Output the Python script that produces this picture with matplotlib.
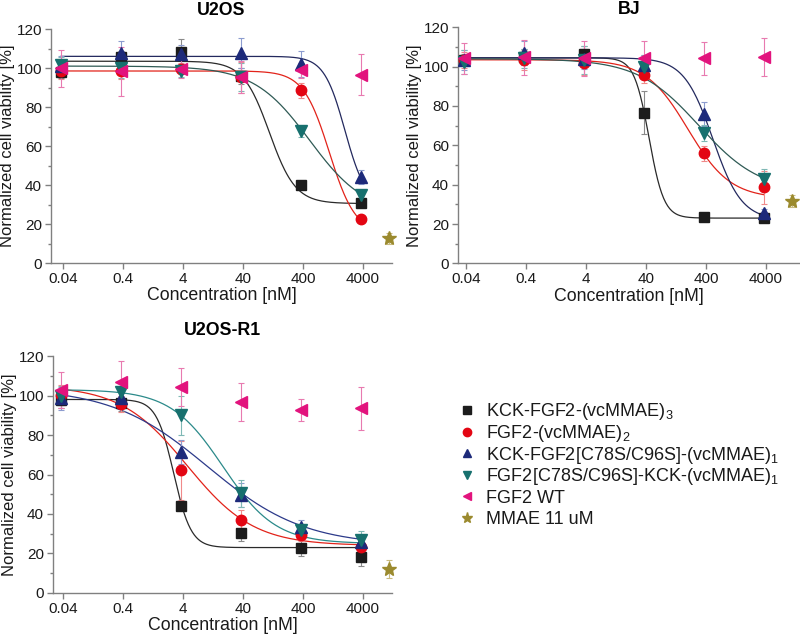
import numpy as np
import matplotlib
matplotlib.use("Agg")
import matplotlib.pyplot as plt
from matplotlib.lines import Line2D
from matplotlib.ticker import FixedLocator, MultipleLocator

plt.rcParams["font.family"] = ["Liberation Sans", "DejaVu Sans"]
plt.rcParams["mathtext.fontset"] = "custom"
plt.rcParams["mathtext.rm"] = "Liberation Sans"
plt.rcParams["mathtext.it"] = "Liberation Sans"
plt.rcParams["mathtext.default"] = "regular"

# concentrations [nM]
conc = [0.037, 0.37, 3.7, 37, 370, 3700]
mmae_conc = 11000
tick_vals = [0.04, 0.4, 4, 40, 400, 4000]
tick_labels = ["0.04", "0.4", "4", "40", "400", "4000"]

labels = [r"KCK-FGF2-(vcMMAE)$_3$", r"FGF2-(vcMMAE)$_2$",
          r"KCK-FGF2[C78S/C96S]-(vcMMAE)$_1$", r"FGF2[C78S/C96S]-KCK-(vcMMAE)$_1$",
          "FGF2 WT", "MMAE 11 uM"]

# U2OS
u2os_kck3 = [97.8, 105.6, 108, 96, 39.8, 30.6]
u2os_kck3_err = [3, 3, 7, 4, 2, 2]
u2os_fgf2 = [98.6, 98.6, 99.7, 95.2, 88.5, 22.7]
u2os_fgf2_err = [4, 4, 3, 8, 4, 1.5]
u2os_kck_c78 = [101, 107.7, 107, 107.7, 102, 44]
u2os_kck_c78_err = [5, 6, 5, 7.5, 6.5, 3.5]
u2os_c78_kck = [101.5, 100, 98.3, 95.4, 67.5, 34.7]
u2os_c78_kck_err = [4, 5, 3, 7, 3, 3]
u2os_wt = [100, 98.3, 99.7, 95.4, 98.8, 96.6]
u2os_wt_err = [9.5, 12.6, 5, 8, 4, 10.5]
u2os_mmae, u2os_mmae_err = 12.6, 3
# fitted curves: top, bottom, ec50, hill
u2os_fit = [(103.5, 30.5, 110, 2.0), (98.5, 15, 1100, 2.0),
            (106, 30, 2000, 2.5), (101, 25, 515, 0.935)]

# BJ
bj_kck3 = [103.4, 105, 106.3, 76.6, 23.7, 22.9]
bj_kck3_err = [3, 4, 4, 11, 1.5, 1.5]
bj_fgf2 = [103.4, 103.4, 101.7, 95.8, 55.9, 38.6]
bj_fgf2_err = [4, 5, 6, 4, 4, 8.5]
bj_kck_c78 = [103.4, 106.8, 104, 101, 75.8, 25.4]
bj_kck_c78_err = [5, 6, 5, 5, 6, 2]
bj_c78_kck = [102.5, 104.2, 103.4, 100, 66.1, 42.9]
bj_c78_kck_err = [6, 5, 7, 6, 4, 5]
bj_wt = [104.2, 104.7, 104.2, 104.2, 104.2, 105]
bj_wt_err = [8, 9, 9, 9, 8.5, 9.5]
bj_mmae, bj_mmae_err = 31.7, 3
bj_fit = [(104.5, 23, 45, 3.5), (103.5, 33, 200, 1.23),
          (104.5, 22, 520, 1.8), (104, 36, 305, 0.848)]

# U2OS-R1
r1_kck3 = [97.7, 96, 43.9, 30.6, 22.8, 18.3]
r1_kck3_err = [4, 4, 2, 4.5, 4, 4.5]
r1_fgf2 = [100.2, 95.5, 62.2, 36.8, 29.2, 23.3]
r1_fgf2_err = [5, 4, 15, 5, 3, 2.5]
r1_kck_c78 = [98.5, 98.5, 71.5, 49.5, 33.5, 25.9]
r1_kck_c78_err = [6, 5, 6, 6, 3.5, 2]
r1_c78_kck = [100, 101.9, 90, 50.4, 31.8, 26.7]
r1_c78_kck_err = [5, 5, 10, 7, 3, 4.5]
r1_wt = [102.8, 106.6, 104.4, 96.8, 92.6, 93.5]
r1_wt_err = [9, 11, 9.5, 9.5, 5.5, 11]
r1_mmae, r1_mmae_err = 12.3, 4.5
r1_fit = [(98, 23, 2.8, 3.0), (105, 24, 4.7, 0.78),
          (104, 24, 10.3, 0.54), (103, 25, 18.6, 0.99)]

markers = ["s", "o", "^", "v", "<"]
mcolors = ["#1c1c1c", "#e30613", "#1d2a7a", "#17706e", "#e2137d"]
ecolors = ["#8a8a8a", "#f08a8a", "#8c9ccf", "#7fb8b5", "#e87ab0"]
msizes = [7, 7.5, 8, 8, 8]
star_color = "#9b8a2e"
axis_gray = "#808080"
text_col = "#1a1a1a"


def hill(x, top, bottom, ec50, h):
    return bottom + (top - bottom) / (1 + (x / ec50) ** h)


def draw_panel(ax, title, series, errs, fits, mmae, mmae_err, fit_colors,
               left_px, right_px, title_pad):
    xs = np.logspace(np.log10(conc[0]), np.log10(conc[-1]), 300)
    for p, c in zip(fits, fit_colors):
        ax.plot(xs, hill(xs, *p), color=c, lw=0.9, zorder=2)
    for i, (y, e) in enumerate(zip(series, errs)):
        ax.errorbar(conc, y, yerr=e, fmt="none", ecolor=ecolors[i], elinewidth=0.8,
                    capsize=2.2, capthick=0.8, zorder=3)
        ax.plot(conc, y, ls="none", marker=markers[i], ms=msizes[i], color=mcolors[i],
                mec=mcolors[i], zorder=4 + i)
    ax.errorbar([mmae_conc], [mmae], yerr=[mmae_err], fmt="none", ecolor="#c9bb80",
                elinewidth=0.8, capsize=2.2, capthick=0.8, zorder=3, clip_on=False)
    ax.plot([mmae_conc], [mmae], ls="none", marker="*", ms=10, color=star_color, zorder=10,
            clip_on=False)

    ax.set_xscale("log")
    l0 = np.log10(0.04)
    ax.set_xlim(10 ** (l0 - left_px / 60), 10 ** (l0 + right_px / 60))
    ax.set_ylim(0, 120)
    ax.xaxis.set_major_locator(FixedLocator(tick_vals))
    ax.set_xticklabels(tick_labels)
    ax.xaxis.set_minor_locator(FixedLocator([]))
    ax.yaxis.set_major_locator(MultipleLocator(20))
    ax.yaxis.set_minor_locator(MultipleLocator(10))
    for s in ["top", "right"]:
        ax.spines[s].set_visible(False)
    for s in ["left", "bottom"]:
        ax.spines[s].set_color(axis_gray)
        ax.spines[s].set_linewidth(1.0)
    ax.tick_params(which="major", length=4, width=1.0, color=axis_gray, labelsize=11,
                   labelcolor=text_col, pad=2.5)
    ax.tick_params(which="minor", length=2.5, width=1.0, color=axis_gray)
    ax.set_xlabel("Concentration [nM]", fontsize=12.8, color=text_col, labelpad=1)
    ax.set_ylabel("Normalized cell viability [%]", fontsize=12, color=text_col, labelpad=1)
    ax.set_title(title, fontsize=12.8, fontweight="bold", pad=title_pad)


fig = plt.figure(figsize=(8, 6.37), dpi=100)
ax1 = fig.add_axes([0.06375, 0.5871, 0.42625, 0.3673])
ax2 = fig.add_axes([0.5725, 0.5866, 0.4275, 0.3705])
ax3 = fig.add_axes([0.06625, 0.0691, 0.42375, 0.372])

dark_fit = ["#2a2a2a", "#e2231a", "#23295e", "#2f5a55"]
r1_fitc = ["#2a2a2a", "#e2231a", "#2c3a8a", "#2b8a8a"]

draw_panel(ax1, "U2OS",
           [u2os_kck3, u2os_fgf2, u2os_kck_c78, u2os_c78_kck, u2os_wt],
           [u2os_kck3_err, u2os_fgf2_err, u2os_kck_c78_err, u2os_c78_kck_err, u2os_wt_err],
           u2os_fit, u2os_mmae, u2os_mmae_err, dark_fit, 12, 329, 10)
draw_panel(ax2, "BJ",
           [bj_kck3, bj_fgf2, bj_kck_c78, bj_c78_kck, bj_wt],
           [bj_kck3_err, bj_fgf2_err, bj_kck_c78_err, bj_c78_kck_err, bj_wt_err],
           bj_fit, bj_mmae, bj_mmae_err, dark_fit, 8, 334, 9.5)
draw_panel(ax3, "U2OS-R1",
           [r1_kck3, r1_fgf2, r1_kck_c78, r1_c78_kck, r1_wt],
           [r1_kck3_err, r1_fgf2_err, r1_kck_c78_err, r1_c78_kck_err, r1_wt_err],
           r1_fit, r1_mmae, r1_mmae_err, r1_fitc, 10, 329, 15)

# legend, laid out row by row so rows are evenly spaced
leg_markers = markers + ["*"]
leg_colors = mcolors + [star_color]
leg_sizes = [5.5, 6, 6, 6, 6, 8]
for i, lab in enumerate(labels):
    yc = 1 - (410 + i * 21.6) / 637
    fig.add_artist(Line2D([467 / 800], [yc], transform=fig.transFigure, ls="none",
                          marker=leg_markers[i], color=leg_colors[i], ms=leg_sizes[i]))
    fig.text(486 / 800, yc - 6.3 / 637, lab, fontsize=13, color=text_col,
             ha="left", va="baseline")

fig.savefig("out.png", dpi=100)
